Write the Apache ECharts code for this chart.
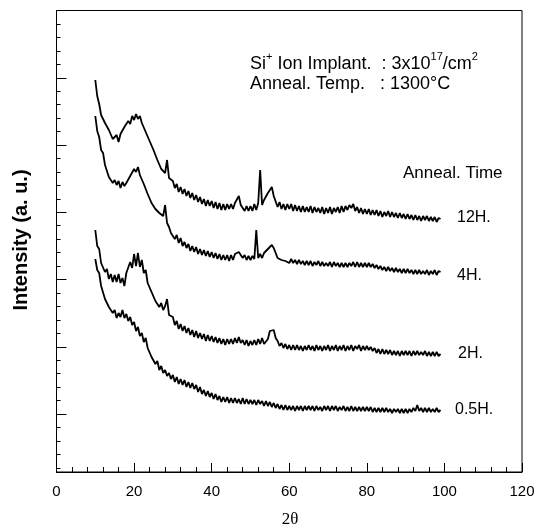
<!DOCTYPE html>
<html><head><meta charset="utf-8">
<script src="https://cdn.jsdelivr.net/npm/echarts@6/dist/echarts.min.js"></script>
<style>html,body{margin:0;padding:0;background:#fff}#c{width:544px;height:528px}</style>
</head><body><div id="c"></div>
<script>
// 2θ sample positions
const twoTheta = [
10,10.5,11,11.5,12,12.5,13,13.5,14,14.5,
15,15.5,16,16.5,17,17.5,18,18.5,19,19.5,
20,20.5,21,21.5,22,22.5,23,23.5,24,24.5,
25,25.5,26,26.5,27,27.5,28,28.5,29,29.5,
30,30.5,31,31.5,32,32.5,33,33.5,34,34.5,
35,35.5,36,36.5,37,37.5,38,38.5,39,39.5,
40,40.5,41,41.5,42,42.5,43,43.5,44,44.5,
45,45.5,46,46.5,47,47.5,48,48.5,49,49.5,
50,50.5,51,51.5,52,52.5,53,53.5,54,54.5,
55,55.5,56,56.5,57,57.5,58,58.5,59,59.5,
60,60.5,61,61.5,62,62.5,63,63.5,64,64.5,
65,65.5,66,66.5,67,67.5,68,68.5,69,69.5,
70,70.5,71,71.5,72,72.5,73,73.5,74,74.5,
75,75.5,76,76.5,77,77.5,78,78.5,79,79.5,
80,80.5,81,81.5,82,82.5,83,83.5,84,84.5,
85,85.5,86,86.5,87,87.5,88,88.5,89,89.5,
90,90.5,91,91.5,92,92.5,93,93.5,94,94.5,
95,95.5,96,96.5,97,97.5,98,98.5,99
];
// intensities (arbitrary units, offset stacked traces)
const h12 = [
392,376,368,357,359,349,351,342,343,333,
331,337,330,338,336,345,343,351,348,356,
352,358,353,356,349,350,340,341,331,333,
322,323,312,314,303,305,299,312,294,293,
291,284,288,280,285,278,283,276,281,274,
279,272,277,270,275,268,273,266,272,266,
271,264,270,263,269,262,268,262,268,263,
268,263,269,268,276,267,268,261,266,261,
266,261,268,262,269,302,267,272,271,279,
282,285,276,274,265,270,263,268,262,268,
263,268,261,267,261,266,260,266,260,265,
260,266,259,265,260,264,259,265,258,264,
259,265,258,264,260,265,259,266,260,266,
262,267,264,268,261,265,259,264,258,263,
258,263,257,262,257,262,256,261,255,260,
256,261,255,260,255,259,254,259,254,258,
253,258,253,257,252,257,252,256,251,256,
252,256,251,255,251,255,250,254,253
];
const h4 = [
356,341,335,322,319,307,305,295,296,289,
292,287,291,284,290,286,289,287,296,295,
303,300,305,297,297,288,287,278,277,269,
268,263,264,259,260,256,267,249,245,239,
240,233,237,229,234,226,230,224,228,221,
226,220,225,218,223,217,222,216,221,215,
220,214,219,213,218,212,217,212,217,211,
217,212,218,216,220,221,214,217,212,216,
212,216,213,242,214,218,214,219,217,223,
225,227,224,219,214,215,212,214,211,213,
209,213,209,212,208,212,208,211,207,211,
207,211,206,210,207,211,206,210,206,209,
206,210,205,210,206,209,205,209,205,209,
205,209,206,210,205,210,205,209,205,209,
205,209,205,208,204,207,203,206,202,205,
201,205,201,204,200,204,200,203,199,203,
199,203,199,202,198,202,198,202,198,201,
198,202,197,201,198,202,197,201,200
];
const h2 = [
242,226,223,209,211,200,203,193,198,190,
197,190,198,189,194,186,199,200,210,204,
218,206,219,205,212,199,202,189,191,180,
181,171,173,165,169,162,166,173,157,156,
155,147,151,143,148,141,146,139,144,137,
142,135,141,134,139,133,138,131,137,131,
136,130,135,129,134,128,133,127,133,128,
133,128,134,129,135,129,132,127,132,126,
131,127,132,127,133,128,134,128,130,133,
141,143,142,134,131,126,129,124,128,123,
127,122,127,122,127,122,126,121,126,122,
127,122,126,121,127,122,126,121,126,122,
127,121,126,122,127,121,126,122,127,121,
126,122,127,121,126,123,127,121,126,122,
126,122,125,121,124,119,123,118,123,118,
122,118,122,117,121,117,121,116,121,117,
121,117,121,116,121,117,121,117,120,117,
121,116,120,116,120,116,120,116,118
];
const h05 = [
213,202,199,186,184,173,175,165,167,159,
162,154,159,155,162,154,158,151,155,147,
150,141,145,136,139,130,134,124,125,115,
117,108,111,102,106,99,102,96,99,93,
97,90,95,88,93,87,92,85,90,84,
89,83,87,80,85,78,82,76,81,75,
79,73,78,72,76,70,75,70,75,69,
74,69,74,69,73,68,74,68,73,68,
72,68,72,67,72,68,71,66,71,66,
70,65,69,64,68,63,67,62,67,62,
66,62,66,61,66,62,66,61,66,62,
66,62,66,61,66,62,65,61,66,62,
66,61,66,62,66,61,65,62,66,61,
65,61,66,61,65,61,65,61,65,61,
65,61,65,60,64,60,64,60,64,60,
64,60,63,59,63,60,63,59,63,59,
63,59,63,60,64,61,67,61,64,60,
64,60,64,60,63,60,64,60,62
];
const traceNames = ['12H.','4H.','2H.','0.5H.'];
const traces = [h12, h4, h2, h05];
const xTickLabels = [0,20,40,60,80,100,120];

const SANS = "'Liberation Sans', Arial, Helvetica, sans-serif";
const SERIF = "'Liberation Serif', 'Times New Roman', serif";

const chart = echarts.init(document.getElementById('c'), null, {renderer:'canvas'});

const series = traces.map((ys, k) => ({
  name: traceNames[k],
  type: 'line',
  xAxisIndex: 0,
  yAxisIndex: 0,
  showSymbol: false,
  symbol: 'none',
  smooth: false,
  lineStyle: {color: '#000', width: 1.8},
  data: twoTheta.map((x, i) => [x, ys[i]])
}));

const tickAxis = (interval, len) => ({
  type: 'value', inverse: true, min: 0, max: 461.5/13.45, interval: interval,
  position: 'left',
  axisLine: {show: false},
  axisTick: {show: true, inside: true, length: len, lineStyle: {color: '#000', width: 1}},
  axisLabel: {show: false},
  splitLine: {show: false}
});

const richSup = {
  n: {fontSize: 18, fontFamily: SANS, lineHeight: 22, verticalAlign: 'bottom'},
  s: {fontSize: 11, fontFamily: SANS, lineHeight: 13, verticalAlign: 'top'}
};

const option = {
  animation: false,
  backgroundColor: '#fff',
  grid: {left: 56.5, right: 22, top: 10.5, bottom: 56, show: true, borderColor: '#000', borderWidth: 1},
  xAxis: [{
    type: 'value', min: 0, max: 120, interval: 20,
    axisLine: {show: true, lineStyle: {color: '#000', width: 1}},
    axisTick: {show: true, inside: true, length: 9, lineStyle: {color: '#000'}},
    minorTick: {show: true, splitNumber: 5, length: 5, lineStyle: {color: '#000'}},
    axisLabel: {show: true, color: '#000', fontSize: 15, fontFamily: SANS, margin: 12,
      formatter: v => (xTickLabels.indexOf(v) >= 0 ? String(v) : '')},
    splitLine: {show: false}
  }],
  yAxis: [
    {type: 'value', min: 0, max: 461.5, show: false, splitLine: {show: false}},
    tickAxis(1, 4),
    tickAxis(5, 10)
  ],
  series: series,
  graphic: [
    {type: 'text', x: 21, y: 240, rotation: Math.PI/2,
      style: {text: 'Intensity (a. u.)', fill: '#000', font: 'bold 20px ' + SANS, align: 'center', verticalAlign: 'middle'}},
    {type: 'text', x: 290, y: 520,
      style: {text: '2θ', fill: '#000', font: 'normal 17px ' + SERIF, align: 'center', verticalAlign: 'middle'}},
    {type: 'text', x: 250, y: 62,
      style: {text: '{n|Si}{s|+}{n| Ion Implant.  : 3x10}{s|17}{n|/cm}{s|2}', align: 'left', verticalAlign: 'middle', fill: '#000',
        rich: richSup}},
    {type: 'text', x: 250, y: 84,
      style: {text: 'Anneal. Temp.   : 1300°C', fill: '#000', font: '18px ' + SANS, align: 'left', verticalAlign: 'middle'}},
    {type: 'text', x: 403, y: 173,
      style: {text: 'Anneal. Time', fill: '#000', font: '17px ' + SANS, align: 'left', verticalAlign: 'middle'}},
    {type: 'text', x: 457, y: 218,
      style: {text: traceNames[0], fill: '#000', font: '16px ' + SANS, align: 'left', verticalAlign: 'middle'}},
    {type: 'text', x: 457, y: 276,
      style: {text: traceNames[1], fill: '#000', font: '16px ' + SANS, align: 'left', verticalAlign: 'middle'}},
    {type: 'text', x: 458, y: 354,
      style: {text: traceNames[2], fill: '#000', font: '16px ' + SANS, align: 'left', verticalAlign: 'middle'}},
    {type: 'text', x: 455, y: 410,
      style: {text: traceNames[3], fill: '#000', font: '16px ' + SANS, align: 'left', verticalAlign: 'middle'}}
  ]
};
chart.setOption(option);
</script>
</body></html>
